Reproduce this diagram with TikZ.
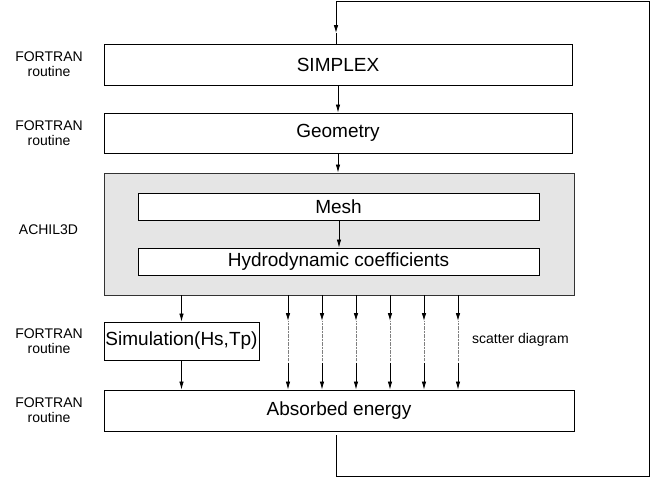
\documentclass[tikz,border=0pt]{standalone}
\usepackage{fontspec}
\setmainfont{Liberation Sans}
\usetikzlibrary{arrows.meta}
\begin{document}
\begin{tikzpicture}[x=1pt,y=-1pt,
  box/.style={draw=black,line width=0.9pt,fill=white,inner sep=0pt,font=\fontsize{19}{21}\selectfont},
  greybox/.style={draw=black!80,line width=0.9pt,fill=black!10,inner sep=0pt},
  side/.style={align=center,font=\fontsize{14}{15}\selectfont,inner sep=0pt},
  conn/.style={draw=black,line width=0.8pt},
  arr/.style={conn,-{Latex[length=8pt,width=4.5pt]}},
  gapline/.style={draw=black!50,line width=0.8pt,dash pattern=on 1.2pt off 0.4pt},
]
\useasboundingbox (0,0) rectangle (665,479);

% boxes
\node[box,minimum width=468pt,minimum height=41pt] (simplex) at (338,64.5) {SIMPLEX};
\node[box,minimum width=468pt,minimum height=40pt] (geom) at (338,133) {Geometry};
\node[greybox,minimum width=470pt,minimum height=122pt] (grey) at (339,234) {};
\node[box,minimum width=401pt,minimum height=27pt] (mesh) at (338.5,206.5) {Mesh};
\node[box,minimum width=401pt,minimum height=27pt] (hydro) at (338.5,261.5) {Hydrodynamic coefficients};
\node[box,minimum width=155pt,minimum height=38pt] (sim) at (181.5,341) {Simulation(Hs,Tp)};
\node[box,minimum width=470pt,minimum height=41pt] (absorbed) at (339,410.5) {Absorbed energy};

% side labels
\node[side] (l1) at (49,64.5) {FORTRAN\\routine};
\node[side] (l2) at (49,133) {FORTRAN\\routine};
\node[side] (l3) at (48.5,230) {ACHIL3D};
\node[side] (l4) at (49,341) {FORTRAN\\routine};
\node[side] (l5) at (49,410.5) {FORTRAN\\routine};
\node[side,anchor=west] (scatter) at (472,340) {scatter diagram};

% vertical connectors
\coordinate (c1) at (338,0);
\draw[arr] (simplex.south -| c1) -- (geom.north -| c1);
\draw[arr] (geom.south -| c1) -- (grey.north -| c1);
\coordinate (c2) at (339,0);
\draw[arr] (mesh.south -| c2) -- (hydro.north -| c2);
\draw[arr] (grey.south -| sim.north) -- (sim.north);
\draw[arr] (sim.south) -- (absorbed.north -| sim.south);

\foreach \x in {288,322,356,390,424,458}{
  \coordinate (u\x) at (\x,321);
  \coordinate (d\x) at (\x,362.5);
  \draw[arr] (grey.south -| u\x) -- (u\x);
  \draw[gapline] (u\x) -- ([yshift=1.5pt]d\x);
  \draw[arr] (d\x) -- (absorbed.north -| d\x);
}

% feedback loop
\coordinate (lb) at (336,476);
\coordinate (rb) at (649,476);
\coordinate (rt) at (649,1);
\coordinate (lt) at (336,1);
\coordinate (lm) at (336,33);
\draw[conn] ([yshift=-4pt]absorbed.south -| lb) -- (lb) -- (rb) -- (rt) -- (lt);
\draw[arr] (lt) -- (lm);
\draw[conn] (lm) -- (simplex.north -| lm);
\end{tikzpicture}
\end{document}
